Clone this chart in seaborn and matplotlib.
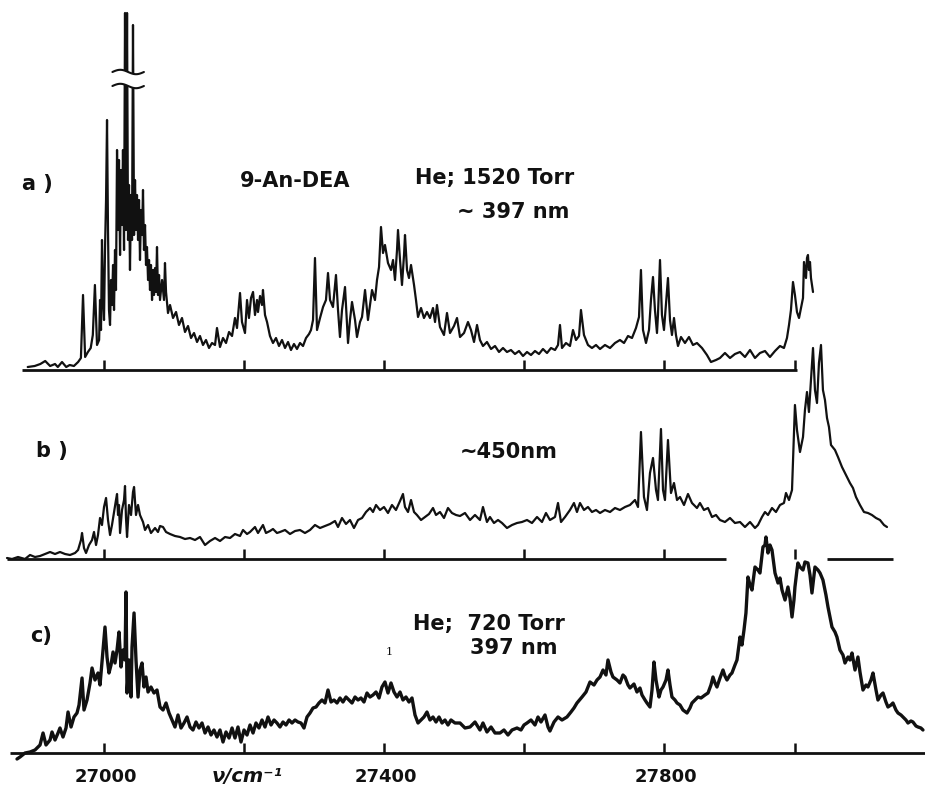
import numpy as np
import matplotlib
matplotlib.use("Agg")
import matplotlib.pyplot as plt
import seaborn as sns

# ---------------------------------------------------------------------------
# Fluorescence excitation spectra of 9-An-DEA (wavenumber in cm^-1, intensity
# in arbitrary units above each trace's own baseline)
# ---------------------------------------------------------------------------

# a) He, 1520 Torr, detection ~397 nm
a_wn = [
    26891, 26901, 26909, 26916, 26923, 26930, 26934, 26940, 26946, 26951,
    26957, 26963, 26967, 26970, 26973, 26977, 26981, 26984, 26987, 26990,
    26993, 26994.3, 26995.7, 26997.1, 26998.6, 27000, 27001.4, 27002.9, 27004.3, 27005.7,
    27007.1, 27008.6, 27010, 27011.4, 27012.9, 27014.3, 27015.7, 27017.1, 27018.6, 27020,
    27021.4, 27022.9, 27024.3, 27025.7, 27027.1, 27028.6, 27030, 27031.4, 27032.9, 27034.3,
    27035.7, 27037.1, 27038.6, 27040, 27041.4, 27042.9, 27044.3, 27045.7, 27047.1, 27048.6,
    27050, 27051.4, 27052.9, 27054.3, 27055.7, 27057.1, 27058.6, 27060, 27061.4, 27062.9,
    27064.3, 27065.7, 27067.1, 27068.6, 27070, 27071.4, 27072.9, 27074.3, 27075.7, 27077.1,
    27078.6, 27080, 27082.9, 27085.7, 27087.1, 27088.6, 27091.4, 27094.3, 27098.6, 27102.9,
    27107.1, 27111.4, 27115.7, 27120, 27124.3, 27128.6, 27132.9, 27137.1, 27141.4, 27145.7,
    27150, 27154.3, 27158.6, 27161.4, 27165.7, 27170, 27174.3, 27178.6, 27182.9, 27187.1,
    27190, 27194.3, 27197.1, 27201.4, 27204.3, 27207.1, 27210, 27212.9, 27215.7, 27218.6,
    27220, 27222.9, 27225.7, 27227.1, 27230, 27232.9, 27237.1, 27241.4, 27245.7, 27250,
    27254.3, 27258.6, 27262.9, 27267.1, 27271.4, 27275.7, 27280, 27284.3, 27288.6, 27292.9,
    27295.7, 27298.6, 27301.4, 27304.3, 27308.6, 27312.9, 27317.1, 27320, 27322.9, 27327.1,
    27331.4, 27334.3, 27337.1, 27340, 27344.3, 27348.6, 27351.4, 27354.3, 27358.6, 27361.4,
    27365.7, 27368.6, 27372.9, 27377.1, 27380, 27382.9, 27387.1, 27390, 27392.9, 27395.7,
    27398.6, 27401.4, 27405.7, 27410, 27412.9, 27415.7, 27418.6, 27420, 27422.9, 27425.7,
    27428.6, 27430, 27432.9, 27435.7, 27438.6, 27442.9, 27445.7, 27448.6, 27452.9, 27457.1,
    27461.4, 27465.7, 27470, 27472.9, 27475.7, 27480, 27485.7, 27490, 27494.3, 27500,
    27504.3, 27508.6, 27514.3, 27520, 27524.3, 27528.6, 27532.9, 27537.1, 27541.4, 27547.1,
    27552.9, 27558.6, 27564.3, 27570, 27575.7, 27581.4, 27587.1, 27592.9, 27598.6, 27604.3,
    27610, 27615.7, 27621.4, 27627.1, 27632.9, 27638.6, 27644.3, 27648.6, 27651.4, 27654.3,
    27660, 27665.7, 27670, 27674.3, 27678.6, 27681.4, 27685.7, 27691.4, 27697.1, 27702.9,
    27708.6, 27715.7, 27722.9, 27730, 27737.1, 27742.9, 27748.6, 27754.3, 27760, 27764.3,
    27767.1, 27770, 27774.3, 27778.6, 27781.4, 27784.3, 27787.1, 27790, 27791.4, 27794.3,
    27797.1, 27800, 27802.9, 27805.7, 27808.6, 27811.4, 27814.3, 27817.1, 27820, 27824.3,
    27830, 27835.7, 27841.4, 27847.1, 27854.3, 27861.4, 27867.1, 27874.3, 27880, 27887.1,
    27894.3, 27901.4, 27908.6, 27915.7, 27922.9, 27930, 27937.1, 27944.3, 27951.4, 27958.6,
    27965.7, 27971.4, 27975.7, 27978.6, 27981.4, 27984.3, 27987.1, 27990, 27992.9, 27995.7,
    27998.6, 28000, 28002.9, 28004.3, 28005.7, 28007.1, 28008.6, 28010, 28012.9,
]
a_int = [
    3, 4, 6, 9, 4, 6, 3, 8, 3, 5,
    4, 8, 12, 75, 13, 18, 22, 35, 85, 25,
    30, 70, 40, 130, 70, 50, 120, 170, 250, 140,
    60, 45, 90, 65, 105, 60, 120, 80, 220, 140,
    210, 115, 200, 145, 220, 120, 357, 140, 357, 130,
    185, 100, 175, 130, 345, 135, 190, 140, 175, 130,
    170, 110, 160, 135, 180, 120, 145, 105, 123, 90,
    110, 80, 105, 70, 100, 75, 102, 78, 123, 75,
    95, 70, 90, 70, 107, 78, 57, 65, 52, 58,
    45, 52, 38, 44, 32, 37, 28, 34, 25, 30,
    22, 27, 25, 42, 23, 32, 27, 38, 34, 52,
    42, 77, 48, 37, 70, 52, 72, 78, 55, 70,
    58, 74, 65, 80, 55, 48, 34, 27, 32, 24,
    30, 22, 28, 20, 26, 21, 27, 24, 32, 36,
    40, 50, 112, 40, 52, 63, 70, 97, 70, 63,
    95, 60, 33, 60, 83, 27, 50, 68, 50, 33,
    48, 53, 80, 50, 65, 80, 70, 90, 103, 143,
    117, 125, 107, 100, 110, 90, 120, 140, 110, 85,
    115, 135, 100, 92, 105, 85, 70, 53, 62, 52,
    58, 52, 62, 48, 65, 43, 35, 57, 37, 44,
    52, 33, 37, 48, 40, 28, 45, 30, 24, 28,
    21, 24, 18, 22, 18, 20, 16, 19, 14, 18,
    15, 19, 16, 21, 17, 22, 20, 25, 45, 22,
    27, 24, 40, 30, 34, 60, 35, 25, 22, 25,
    21, 25, 22, 27, 30, 27, 34, 32, 42, 53,
    100, 40, 27, 40, 70, 93, 60, 37, 55, 110,
    55, 40, 67, 92, 50, 35, 52, 35, 24, 33,
    27, 33, 25, 27, 22, 15, 8, 10, 12, 17,
    12, 16, 18, 13, 20, 12, 17, 19, 13, 19,
    24, 22, 32, 45, 60, 88, 75, 58, 52, 62,
    72, 108, 92, 112, 115, 100, 108, 92, 78,
]

# b) detection ~450 nm
b_wn = [
    26861.4, 26868.6, 26877.1, 26887.1, 26894.3, 26901.4, 26908.6, 26915.7, 26922.9, 26930,
    26937.1, 26944.3, 26951.4, 26958.6, 26962.9, 26967.1, 26968.6, 26971.4, 26974.3, 26978.6,
    26982.9, 26985.7, 26988.6, 26991.4, 26994.3, 26997.1, 27000, 27002.9, 27005.7, 27008.6,
    27011.4, 27014.3, 27017.1, 27018.6, 27020, 27021.4, 27022.9, 27025.7, 27028.6, 27030,
    27031.4, 27032.9, 27035.7, 27038.6, 27041.4, 27042.9, 27045.7, 27048.6, 27051.4, 27055.7,
    27058.6, 27062.9, 27067.1, 27072.9, 27077.1, 27080, 27084.3, 27088.6, 27094.3, 27101.4,
    27108.6, 27115.7, 27122.9, 27130, 27137.1, 27144.3, 27151.4, 27158.6, 27165.7, 27172.9,
    27180, 27187.1, 27194.3, 27198.6, 27204.3, 27208.6, 27215.7, 27220, 27227.1, 27231.4,
    27237.1, 27241.4, 27247.1, 27251.4, 27258.6, 27265.7, 27272.9, 27280, 27287.1, 27294.3,
    27301.4, 27308.6, 27315.7, 27322.9, 27330, 27334.3, 27340, 27345.7, 27351.4, 27357.1,
    27362.9, 27368.6, 27374.3, 27380, 27384.3, 27388.6, 27394.3, 27400, 27405.7, 27411.4,
    27417.1, 27422.9, 27427.1, 27430, 27434.3, 27438.6, 27442.9, 27447.1, 27452.9, 27458.6,
    27464.3, 27470, 27474.3, 27480, 27485.7, 27491.4, 27497.1, 27502.9, 27508.6, 27515.7,
    27522.9, 27530, 27537.1, 27541.4, 27547.1, 27551.4, 27557.1, 27562.9, 27568.6, 27575.7,
    27582.9, 27590, 27597.1, 27604.3, 27611.4, 27618.6, 27625.7, 27631.4, 27637.1, 27644.3,
    27648.6, 27652.9, 27658.6, 27665.7, 27671.4, 27675.7, 27680, 27685.7, 27691.4, 27697.1,
    27702.9, 27708.6, 27715.7, 27722.9, 27730, 27737.1, 27744.3, 27751.4, 27758.6, 27762.9,
    27767.1, 27771.4, 27775.7, 27780, 27784.3, 27788.6, 27791.4, 27795.7, 27798.6, 27801.4,
    27805.7, 27810, 27814.3, 27818.6, 27822.9, 27828.6, 27834.3, 27840, 27847.1, 27851.4,
    27857.1, 27862.9, 27868.6, 27874.3, 27880, 27887.1, 27894.3, 27901.4, 27908.6, 27915.7,
    27922.9, 27930, 27934.3, 27940, 27944.3, 27948.6, 27954.3, 27960, 27965.7, 27971.4,
    27974.3, 27978.6, 27982.9, 27987.1, 27990, 27994.3, 27998.6, 28001.4, 28004.3, 28007.1,
    28010, 28012.9, 28015.7, 28018.6, 28021.4, 28024.3, 28027.1, 28030, 28032.9, 28035.7,
    28038.6, 28044.3, 28048.6, 28054.3, 28060, 28065.7, 28070, 28074.3, 28080, 28085.7,
    28091.4, 28097.1, 28102.9, 28108.6, 28114.3, 28118.6,
]
b_int = [
    1, 0, 2, 0, 4, 2, 3, 5, 7, 5,
    7, 5, 4, 6, 9, 19, 26, 11, 6, 14,
    19, 27, 14, 24, 41, 34, 52, 61, 39, 24,
    34, 47, 59, 65, 44, 54, 26, 49, 59, 73,
    41, 22, 54, 44, 67, 72, 44, 54, 44, 37,
    29, 34, 26, 31, 27, 33, 32, 27, 25, 23,
    22, 20, 21, 19, 22, 14, 18, 21, 18, 22,
    21, 25, 23, 29, 25, 27, 32, 26, 34, 26,
    28, 30, 26, 27, 29, 25, 28, 29, 26, 29,
    34, 31, 33, 35, 38, 32, 41, 35, 39, 31,
    39, 41, 47, 51, 47, 54, 49, 52, 46, 54,
    49, 58, 65, 52, 47, 59, 47, 44, 39, 42,
    45, 51, 44, 47, 41, 51, 46, 44, 43, 46,
    39, 44, 39, 52, 37, 42, 36, 39, 36, 31,
    34, 36, 37, 39, 36, 42, 37, 46, 39, 42,
    56, 37, 42, 49, 56, 47, 56, 49, 52, 47,
    49, 46, 49, 47, 51, 49, 52, 54, 59, 52,
    127, 62, 49, 86, 101, 69, 59, 130, 69, 59,
    119, 66, 76, 59, 62, 54, 65, 56, 51, 56,
    49, 51, 42, 44, 39, 37, 41, 36, 37, 32,
    37, 31, 34, 42, 47, 44, 51, 47, 54, 56,
    66, 59, 69, 154, 129, 107, 122, 149, 167, 147,
    179, 211, 169, 156, 196, 214, 169, 159, 141, 132,
    114, 109, 102, 92, 84, 76, 71, 62, 54, 47,
    46, 44, 41, 39, 34, 32,
]

# c) He, 720 Torr, detection 397 nm
c_wn = [
    26875.7, 26880, 26887.1, 26894.3, 26901.4, 26908.6, 26912.9, 26917.1, 26922.9, 26925.7,
    26930, 26934.3, 26937.1, 26941.4, 26945.7, 26948.6, 26952.9, 26957.1, 26961.4, 26964.3,
    26968.6, 26971.4, 26975.7, 26980, 26982.9, 26987.1, 26991.4, 26994.3, 26998.6, 27001.4,
    27004.3, 27007.1, 27010, 27012.9, 27015.7, 27018.6, 27021.4, 27024.3, 27027.1, 27030,
    27031.4, 27032.9, 27035.7, 27038.6, 27040, 27042.9, 27045.7, 27048.6, 27051.4, 27054.3,
    27057.1, 27060, 27062.9, 27067.1, 27071.4, 27075.7, 27080, 27084.3, 27088.6, 27092.9,
    27097.1, 27101.4, 27105.7, 27110, 27114.3, 27118.6, 27122.9, 27127.1, 27131.4, 27135.7,
    27140, 27144.3, 27148.6, 27152.9, 27157.1, 27161.4, 27165.7, 27170, 27174.3, 27178.6,
    27182.9, 27187.1, 27191.4, 27195.7, 27200, 27204.3, 27208.6, 27212.9, 27217.1, 27221.4,
    27225.7, 27230, 27234.3, 27238.6, 27242.9, 27247.1, 27251.4, 27255.7, 27260, 27264.3,
    27268.6, 27272.9, 27277.1, 27281.4, 27285.7, 27290, 27294.3, 27298.6, 27302.9, 27307.1,
    27311.4, 27315.7, 27320, 27324.3, 27328.6, 27332.9, 27337.1, 27341.4, 27345.7, 27350,
    27354.3, 27358.6, 27362.9, 27367.1, 27371.4, 27375.7, 27380, 27384.3, 27388.6, 27392.9,
    27397.1, 27401.4, 27405.7, 27410, 27414.3, 27418.6, 27422.9, 27427.1, 27431.4, 27435.7,
    27440, 27444.3, 27448.6, 27452.9, 27457.1, 27461.4, 27465.7, 27470, 27474.3, 27478.6,
    27482.9, 27487.1, 27491.4, 27495.7, 27501.4, 27508.6, 27515.7, 27522.9, 27530, 27537.1,
    27541.4, 27547.1, 27552.9, 27558.6, 27565.7, 27571.4, 27577.1, 27582.9, 27590, 27595.7,
    27600, 27604.3, 27610, 27615.7, 27620, 27624.3, 27630, 27634.3, 27637.1, 27642.9,
    27648.6, 27654.3, 27661.4, 27667.1, 27671.4, 27675.7, 27682.9, 27688.6, 27694.3, 27700,
    27704.3, 27708.6, 27712.9, 27717.1, 27720, 27724.3, 27727.1, 27732.9, 27737.1, 27741.4,
    27744.3, 27748.6, 27751.4, 27757.1, 27761.4, 27765.7, 27768.6, 27772.9, 27775.7, 27780,
    27782.9, 27785.7, 27788.6, 27792.9, 27795.7, 27798.6, 27802.9, 27805.7, 27808.6, 27811.4,
    27815.7, 27818.6, 27822.9, 27827.1, 27832.9, 27837.1, 27840, 27844.3, 27848.6, 27852.9,
    27858.6, 27862.9, 27867.1, 27870, 27872.9, 27875.7, 27880, 27884.3, 27887.1, 27890,
    27894.3, 27897.1, 27901.4, 27904.3, 27908.6, 27911.4, 27914.3, 27917.1, 27920, 27922.9,
    27925.7, 27928.6, 27930, 27934.3, 27937.1, 27940, 27941.4, 27944.3, 27945.7, 27948.6,
    27951.4, 27954.3, 27957.1, 27958.6, 27962.9, 27965.7, 27968.6, 27972.9, 27977.1, 27980,
    27982.9, 27985.7, 27987.1, 27990, 27991.4, 27994.3, 27998.6, 28001.4, 28005.7, 28008.6,
    28011.4, 28014.3, 28015.7, 28020, 28022.9, 28027.1, 28031.4, 28034.3, 28037.1, 28040,
    28044.3, 28047.1, 28051.4, 28055.7, 28058.6, 28062.9, 28065.7, 28068.6, 28072.9, 28077.1,
    28080, 28084.3, 28088.6, 28091.4, 28095.7, 28098.6, 28102.9, 28105.7, 28110, 28112.9,
    28117.1, 28120, 28124.3, 28127.1, 28131.4, 28134.3, 28138.6, 28141.4, 28145.7, 28148.6,
    28152.9, 28155.7, 28160, 28162.9, 28167.1, 28170,
]
c_int = [
    -6, -4, 0, 1, 3, 8, 20, 8, 13, 21,
    13, 20, 25, 16, 25, 41, 26, 36, 40, 48,
    75, 43, 53, 70, 85, 73, 80, 68, 103, 126,
    96, 80, 88, 101, 90, 103, 121, 86, 103, 93,
    161, 60, 93, 56, 106, 140, 93, 56, 83, 90,
    66, 76, 61, 66, 60, 63, 46, 43, 50, 40,
    33, 26, 38, 25, 30, 36, 26, 23, 31, 25,
    30, 20, 26, 18, 23, 16, 23, 11, 21, 15,
    25, 15, 26, 11, 23, 18, 28, 20, 30, 25,
    33, 26, 36, 28, 33, 30, 26, 31, 28, 33,
    30, 33, 31, 30, 25, 36, 40, 45, 46, 50,
    53, 50, 63, 51, 53, 50, 55, 51, 56, 53,
    50, 56, 53, 55, 51, 60, 56, 58, 61, 55,
    66, 71, 60, 70, 61, 56, 61, 53, 56, 51,
    55, 38, 30, 33, 36, 41, 33, 36, 31, 36,
    30, 33, 28, 33, 30, 30, 25, 26, 31, 23,
    30, 21, 26, 20, 20, 23, 18, 23, 25, 23,
    28, 30, 33, 28, 36, 31, 38, 26, 22, 31,
    36, 33, 36, 41, 45, 50, 56, 61, 71, 68,
    73, 76, 83, 78, 93, 81, 76, 73, 70, 78,
    76, 68, 65, 69, 61, 65, 58, 53, 50, 46,
    63, 91, 73, 56, 63, 66, 73, 83, 68, 56,
    53, 50, 48, 43, 40, 45, 50, 53, 56, 55,
    58, 60, 68, 76, 70, 66, 75, 83, 77, 73,
    78, 80, 88, 93, 116, 108, 123, 140, 176, 168,
    163, 178, 186, 183, 180, 198, 206, 208, 216, 200,
    208, 203, 188, 180, 170, 175, 163, 153, 166, 155,
    136, 153, 166, 183, 190, 186, 183, 191, 190, 178,
    160, 178, 186, 183, 180, 173, 158, 146, 136, 126,
    121, 116, 103, 98, 90, 96, 93, 100, 83, 96,
    81, 63, 68, 66, 73, 80, 63, 53, 58, 60,
    51, 46, 48, 50, 43, 40, 38, 36, 33, 30,
    32, 31, 27, 26, 25, 23,
]

# Wavenumber scale: tick marks and the labelled ones
tick_wn = [27000, 27200, 27400, 27600, 27800, 27987]
labelled_wn = [27000, 27400, 27800]

# ---------------------------------------------------------------------------
sns.set_style("white")
plt.rcParams["font.family"] = ["DejaVu Sans"]

INK = "#111111"
W, H = 925, 787

fig = plt.figure(figsize=(W / 100, H / 100), dpi=100)
ax = fig.add_axes([0, 0, 1, 1])
ax.set_xlim(26851.4, 28172.9)
ax.set_ylim(0, H)
ax.axis("off")

# vertical offset of each trace's baseline (stacked display)
off_a, off_b, off_c = 417, 228, 34

traces = [
    (a_wn, a_int, off_a, 1.6),
    (b_wn, b_int, off_b, 1.6),
    (c_wn, c_int, off_c, 2.4),
]
for wn, inten, off, lw in traces:
    sns.lineplot(x=np.asarray(wn), y=np.asarray(inten) + off, ax=ax,
                 color=INK, linewidth=lw, estimator=None, sort=False,
                 legend=False, zorder=3)

# baselines with tick marks
base_lw = 2.0
segments = {
    off_a: [(26883, 27990)],
    off_b: [(26861, 27888), (28033, 28127)],
    off_c: [(26866, 28173)],
}
for off, segs in segments.items():
    for x0, x1 in segs:
        ax.plot([x0, x1], [off, off], color=INK, lw=base_lw,
                solid_capstyle="butt", zorder=2)
    ax.vlines(tick_wn, off, off + 10, color=INK, lw=1.8, zorder=2)

# axis break on the off-scale lines of trace a
bx = np.linspace(27012, 27057, 60)
wave = 2.2 * np.sin(2 * np.pi * (bx - 27012) / 45.0)
upper = off_a + 298 + wave
lower = off_a + 284 + wave
ax.fill_between(bx, lower, upper, color="white", zorder=5, lw=0)
ax.plot(bx, upper, color=INK, lw=1.5, zorder=6)
ax.plot(bx, lower, color=INK, lw=1.5, zorder=6)

# tick labels under the lowest trace
for v in labelled_wn:
    ax.text(v + 3, 10, f"{v}", ha="center", va="center",
            fontsize=13, fontweight="bold", color=INK)


def ftext(px, py, s, **kw):
    kw.setdefault("fontsize", 15)
    kw.setdefault("fontweight", "bold")
    kw.setdefault("color", INK)
    kw.setdefault("va", "center")
    fig.text(px / W, 1 - py / H, s, **kw)


ftext(247, 777, "\u03bd/cm\u207b\u00b9", ha="center", fontsize=14, style="italic")

ftext(22, 184, "a )", ha="left")
ftext(240, 181, "9-An-DEA", ha="left")
ftext(415, 178, "He; 1520 Torr", ha="left")
ftext(457, 212, "~ 397 nm", ha="left")

ftext(36, 451, "b )", ha="left")
ftext(460, 452, "~450nm", ha="left")

ftext(30, 636, "c)", ha="left")
ftext(413, 624, "He;  720 Torr", ha="left")
ftext(470, 648, "397 nm", ha="left")
ftext(389, 652, "1", ha="center", fontsize=8, fontweight="normal",
      family="DejaVu Serif")

fig.savefig("out.png", dpi=100)
